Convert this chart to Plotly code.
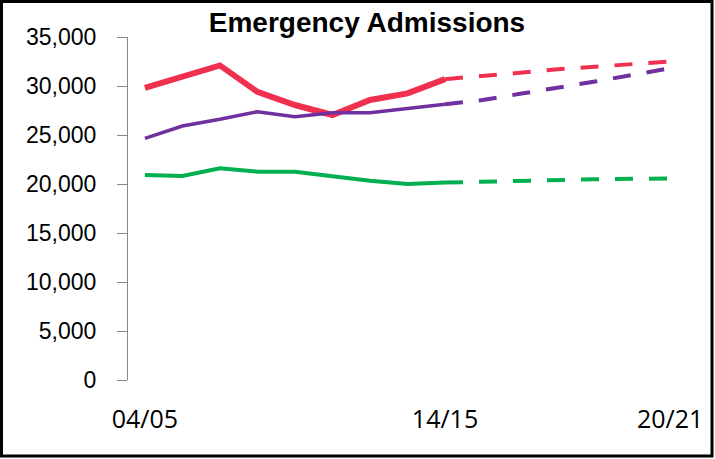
import plotly.graph_objects as go

# ---- data ----
tick_positions = [0, 8, 14]
tick_labels = ["04/05", "14/15", "20/21"]
actual_x = [0, 1, 2, 3, 4, 5, 6, 7, 8]
proj_x = [8, 9, 10, 11, 12, 13, 14]

red_actual = [29800, 30950, 32100, 29400, 28060, 27040, 28570, 29250, 30700]
red_proj = [30700, 30980, 31350, 31700, 32000, 32250, 32500]
purple_actual = [24660, 25920, 26600, 27380, 26870, 27280, 27280, 27720, 28130]
purple_proj = [28130, 28570, 29200, 29800, 30460, 31120, 31830]
green_actual = [20920, 20820, 21600, 21260, 21260, 20750, 20340, 20000, 20150]
green_proj = [20150, 20250, 20350, 20420, 20480, 20530, 20570]

RED = "#F0304F"
PURPLE = "#7030A0"
GREEN = "#00B050"
DASH = "18px,16px"

W, H = 715, 459
ML, MR, MT, MB = 128, 28, 37, 79
PW = W - ML - MR
PH = H - MT - MB

fig = go.Figure()
fig.add_trace(go.Scatter(x=actual_x, y=red_actual, mode="lines",
                         line=dict(color=RED, width=6)))
fig.add_trace(go.Scatter(x=proj_x, y=red_proj, mode="lines",
                         line=dict(color=RED, width=4, dash=DASH)))
fig.add_trace(go.Scatter(x=actual_x, y=purple_actual, mode="lines",
                         line=dict(color=PURPLE, width=3.5)))
fig.add_trace(go.Scatter(x=proj_x, y=purple_proj, mode="lines",
                         line=dict(color=PURPLE, width=4, dash=DASH)))
fig.add_trace(go.Scatter(x=actual_x, y=green_actual, mode="lines",
                         line=dict(color=GREEN, width=4)))
fig.add_trace(go.Scatter(x=proj_x, y=green_proj, mode="lines",
                         line=dict(color=GREEN, width=4, dash=DASH)))

def px_x(px):
    return (px - ML) / PW

def px_y(py):
    return (H - MB - py) / PH

fig.update_layout(
    width=W, height=H,
    margin=dict(l=ML, r=MR, t=MT, b=MB),
    paper_bgcolor="white", plot_bgcolor="white",
    showlegend=False,
    title=dict(text="<b>Emergency Admissions</b>", x=367 / W, y=1 - 22 / H,
               xref="container", yref="container", xanchor="center", yanchor="middle",
               font=dict(family="Liberation Sans, Arial", size=28, color="#000")),
    xaxis=dict(range=[-0.45, 14.45], tickvals=tick_positions, ticktext=tick_labels,
               showgrid=False, zeroline=False, showline=False, ticks="",
               tickfont=dict(family="Open Sans", size=25, color="#000"),
               ticklabelstandoff=22),
    yaxis=dict(range=[0, 35000], tickvals=[0, 5000, 10000, 15000, 20000, 25000, 30000, 35000],
               tickformat=",", showgrid=False, zeroline=False,
               showline=True, linecolor="#888", linewidth=1,
               ticks="outside", ticklen=10, tickcolor="#888", tickwidth=1,
               tickfont=dict(family="Liberation Sans, Arial", size=23, color="#000"),
               ticklabelstandoff=16),
    shapes=[dict(type="rect", xref="paper", yref="paper",
                 x0=px_x(1.5), x1=px_x(712), y0=px_y(456), y1=px_y(1.5),
                 line=dict(color="#000", width=3), fillcolor="rgba(0,0,0,0)")],
)

fig.write_html("out.html")
